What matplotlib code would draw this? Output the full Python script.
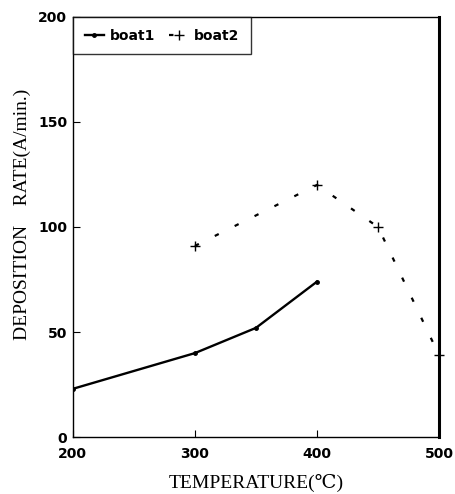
import matplotlib
matplotlib.use("Agg")
import matplotlib.pyplot as plt

# temperatures (C) and deposition rates (A/min)
temp1 = [200, 300, 350, 400]
rate1 = [23, 40, 52, 74]
temp2 = [300, 400, 450, 500]
rate2 = [91, 120, 100, 39]

xticks = [200, 300, 400, 500]
yticks = [0, 50, 100, 150, 200]

fig = plt.figure(figsize=(4.55, 4.94), dpi=100)
ax = fig.add_axes([0.160, 0.115, 0.805, 0.851])

ax.plot(temp1, rate1, color="black", lw=1.7, marker="o", ms=2.5, label="boat1")
ax.plot(temp2, rate2, color="black", lw=1.6, ls=(0, (2, 8)), marker="+",
        ms=7, mew=1.0, label="boat2", clip_on=False)

ax.set_xlim(200, 500)
ax.set_ylim(0, 200)
ax.set_xticks(xticks)
ax.set_yticks(yticks)
ax.tick_params(axis="x", direction="in", length=5, width=0.8, pad=7)
ax.tick_params(axis="y", direction="in", length=5, width=0.8, pad=4)
for lab in ax.get_xticklabels() + ax.get_yticklabels():
    lab.set_fontweight("bold")
    lab.set_fontsize(10)
    lab.set_family("DejaVu Sans")

for side in ["left", "bottom", "top"]:
    ax.spines[side].set_linewidth(1.0)
ax.spines["right"].set_linewidth(2.2)

serif = ["Liberation Serif", "DejaVu Serif"]
ax.set_xlabel("TEMPERATURE(\u2103)", family=serif, fontsize=14)
ax.xaxis.set_label_coords(0.5, -0.088)
ax.set_ylabel("DEPOSITION    RATE(A/min.)", family=serif, fontsize=14)
ax.yaxis.set_label_coords(-0.115, 0.53)

leg = ax.legend(loc="upper left", ncol=2, frameon=True, fancybox=False,
                borderaxespad=0, borderpad=0.85, handlelength=1.4,
                handletextpad=0.4, columnspacing=1.0,
                prop={"family": "DejaVu Sans", "weight": "bold", "size": 10})
leg.get_frame().set_edgecolor("black")
leg.get_frame().set_linewidth(1.0)

fig.savefig("out.png", dpi=100)
